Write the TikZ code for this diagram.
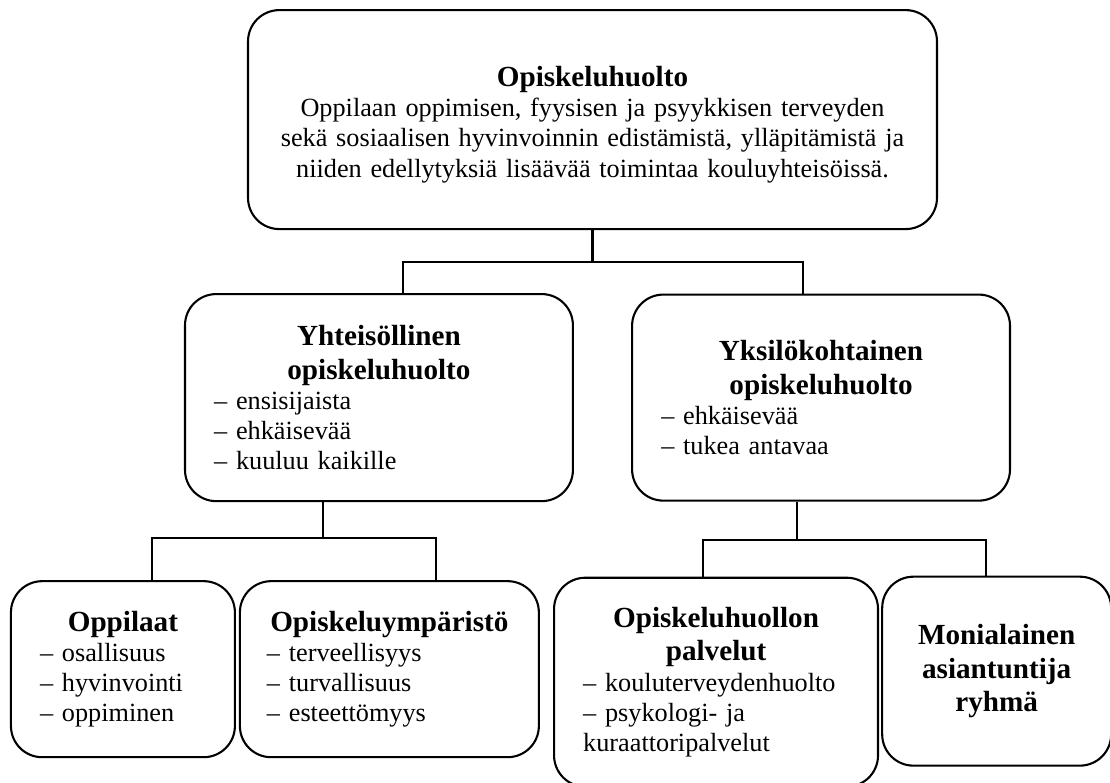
\documentclass[tikz,border=0pt]{standalone}
\usepackage{fontspec}
\setmainfont{Liberation Serif}
\usetikzlibrary{positioning}

\newcommand{\bodysize}{\fontsize{12.6}{14.5}\selectfont}
\newcommand{\ttl}[1]{{\centering\fontsize{14}{16.1}\selectfont\bfseries #1\par}}

\begin{document}
\begin{tikzpicture}[
  box/.style={draw, rectangle, rounded corners=15pt, line width=1pt,
              inner xsep=14pt, inner ysep=0pt, align=left, font=\bodysize},
  conn/.style={line width=1pt}
]
\useasboundingbox (0,0) rectangle (532.8pt,-375.8pt);
\node[box, align=center, text width=302.7pt, minimum height=105.1pt] (huolto) at (284.4pt,-57.4pt)
  {\ttl{\rule{0pt}{14.5pt}Opiskeluhuolto}Oppilaan oppimisen, fyysisen ja psyykkisen terveyden\\
   sekä sosiaalisen hyvinvoinnin edistämistä, ylläpitämistä ja\\
   niiden edellytyksiä lisäävää toimintaa kouluyhteisöissä.};
\node[box, text width=158.2pt, minimum height=99.4pt, below=30.2pt of huolto, xshift=-102.5pt] (yht)
  {\ttl{Yhteisöllinen\\ opiskeluhuolto}-- ensisijaista\\-- ehkäisevää\\-- kuuluu kaikille};
\node[box, text width=153.4pt, minimum height=98.9pt, right=27.4pt of yht] (yks)
  {\ttl{Yksilökohtainen\\ opiskeluhuolto}-- ehkäisevää\\-- tukea antavaa};
\node[box, text width=79.5pt, minimum height=84.5pt, below=37.4pt of yht, xshift=-122.9pt] (opp)
  {\ttl{Oppilaat}-- osallisuus\\-- hyvinvointi\\-- oppiminen};
\node[box, inner xsep=13pt, text width=117.5pt, minimum height=84.5pt, right=1.4pt of opp] (ymp)
  {\ttl{Opiskeluympäristö}-- terveellisyys\\-- turvallisuus\\-- esteettömyys};
\node[box, text width=127.5pt, minimum height=100.3pt, below=36pt of yks, xshift=-50.4pt] (pal)
  {\ttl{Opiskeluhuollon\\ palvelut}-- kouluterveydenhuolto\\-- psykologi- ja\\kuraattoripalvelut};
\node[box, align=center, text width=81.9pt, minimum height=90.7pt, right=1pt of pal, yshift=5.3pt] (mon)
  {\ttl{Monialainen\\ asiantuntija\\ ryhmä}};
% liitokset
\draw[conn] (huolto.south) -- ++(0,-15.4pt) coordinate (bar1);
\draw[conn] (bar1) -| ([xshift=11.5pt]yht.north);
\draw[conn] (bar1) -| ([xshift=-8.6pt]yks.north);
\draw[conn] ([xshift=-26.9pt]yht.south) -- ++(0,-17.3pt) coordinate (bar2);
\draw[conn] (bar2) -| ([xshift=13.9pt]opp.north);
\draw[conn] (bar2) -| ([xshift=22.3pt]ymp.north);
\draw[conn] ([xshift=-11.5pt]yks.south) -- ++(0,-18.2pt) coordinate (bar3);
\draw[conn] (bar3) -| ([xshift=-6.2pt]pal.north);
\draw[conn] (bar3) -| ([xshift=-5pt]mon.north);
\end{tikzpicture}
\end{document}
